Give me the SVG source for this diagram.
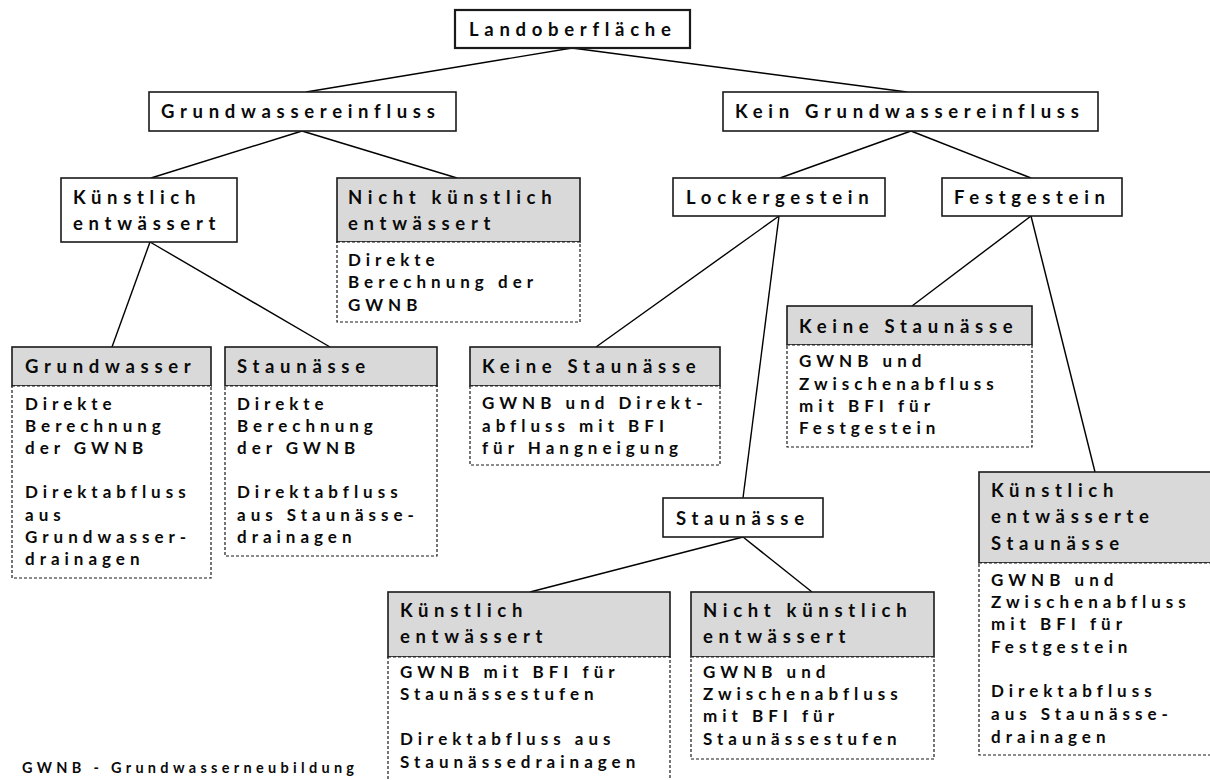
<svg xmlns="http://www.w3.org/2000/svg" width="1210" height="780" viewBox="0 0 1210 780">
<style>
.bg{fill:#fff}
.box{fill:#fff;stroke:#1a1a1a;stroke-width:1.6}
.hd{fill:#d9d9d9;stroke:#1a1a1a;stroke-width:1.6}
.bd{fill:#fff;stroke:#1a1a1a;stroke-width:1.2;stroke-dasharray:3 2}
.ln{stroke:#000;stroke-width:1.4;fill:none}
text{fill:#0a0a0a;font-family:Lato,"Liberation Sans",sans-serif;font-weight:bold}
.h{font-size:18.5px;letter-spacing:5.7px}
.b{font-size:17px;letter-spacing:5px}
.f{font-size:14.5px;letter-spacing:4.3px}
</style>
<rect class="bg" x="0" y="0" width="1210" height="780"/>
<g id="connectors">
<line class="ln" x1="572" y1="48" x2="306" y2="92"/>
<line class="ln" x1="572" y1="48" x2="907" y2="92"/>
<line class="ln" x1="302" y1="131" x2="151" y2="178"/>
<line class="ln" x1="302" y1="131" x2="457" y2="178"/>
<line class="ln" x1="911" y1="131" x2="780" y2="178"/>
<line class="ln" x1="911" y1="131" x2="1031" y2="178"/>
<line class="ln" x1="150" y1="242" x2="112" y2="347"/>
<line class="ln" x1="150" y1="242" x2="330" y2="347"/>
<line class="ln" x1="779" y1="216" x2="596" y2="347"/>
<line class="ln" x1="779" y1="216" x2="743" y2="498"/>
<line class="ln" x1="1031" y1="216" x2="912" y2="306"/>
<line class="ln" x1="1031" y1="216" x2="1095" y2="472"/>
<line class="ln" x1="743" y1="537" x2="530" y2="592"/>
<line class="ln" x1="743" y1="537" x2="812" y2="592"/>
</g>
<g id="n-landoberflaeche">
<rect class="box" x="455" y="10" width="235" height="38" style="stroke-width:2.2"/>
<text class="h" x="469" y="36">Landoberfläche</text>
</g>
<g id="n-grundwassereinfluss">
<rect class="box" x="149" y="92" width="307" height="39"/>
<text class="h" x="161" y="118">Grundwassereinfluss</text>
</g>
<g id="n-kein-grundwassereinfluss">
<rect class="box" x="723" y="92" width="375" height="39"/>
<text class="h" x="735" y="118">Kein Grundwassereinfluss</text>
</g>
<g id="n-kuenstlich-oben">
<rect class="box" x="61" y="178" width="176" height="64"/>
<text class="h" x="73" y="204">Künstlich</text>
<text class="h" x="73" y="230">entwässert</text>
</g>
<g id="n-nicht-kuenstlich-oben">
<rect class="hd" x="337" y="178" width="243" height="64"/>
<rect class="bd" x="337" y="242" width="243" height="80"/>
<text class="h" x="348" y="204">Nicht künstlich</text>
<text class="h" x="348" y="230">entwässert</text>
<text class="b" x="348" y="266">Direkte</text>
<text class="b" x="348" y="288">Berechnung der</text>
<text class="b" x="348" y="311">GWNB</text>
</g>
<g id="n-lockergestein">
<rect class="box" x="673" y="178" width="212" height="38"/>
<text class="h" x="686" y="204">Lockergestein</text>
</g>
<g id="n-festgestein">
<rect class="box" x="942" y="178" width="180" height="38"/>
<text class="h" x="954" y="204">Festgestein</text>
</g>
<g id="n-grundwasser">
<rect class="hd" x="12" y="347" width="199" height="39"/>
<rect class="bd" x="12" y="386" width="199" height="192"/>
<text class="h" x="25" y="373">Grundwasser</text>
<text class="b" x="25" y="410">Direkte</text>
<text class="b" x="25" y="432">Berechnung</text>
<text class="b" x="25" y="454">der GWNB</text>
<text class="b" x="25" y="498">Direktabfluss</text>
<text class="b" x="25" y="521">aus</text>
<text class="b" x="25" y="543">Grundwasser-</text>
<text class="b" x="25" y="565">drainagen</text>
</g>
<g id="n-staunaesse-links">
<rect class="hd" x="225" y="347" width="212" height="39"/>
<rect class="bd" x="225" y="386" width="212" height="170"/>
<text class="h" x="237" y="373">Staunässe</text>
<text class="b" x="237" y="410">Direkte</text>
<text class="b" x="237" y="432">Berechnung</text>
<text class="b" x="237" y="454">der GWNB</text>
<text class="b" x="237" y="498">Direktabfluss</text>
<text class="b" x="237" y="521">aus Staunässe-</text>
<text class="b" x="237" y="543">drainagen</text>
</g>
<g id="n-keine-staunaesse-locker">
<rect class="hd" x="470" y="347" width="250" height="39"/>
<rect class="bd" x="470" y="386" width="250" height="79"/>
<text class="h" x="482" y="373">Keine Staunässe</text>
<text class="b" x="482" y="409">GWNB und Direkt-</text>
<text class="b" x="482" y="432">abfluss mit BFI</text>
<text class="b" x="482" y="454">für Hangneigung</text>
</g>
<g id="n-keine-staunaesse-fest">
<rect class="hd" x="787" y="306" width="245" height="39"/>
<rect class="bd" x="787" y="345" width="245" height="102"/>
<text class="h" x="799" y="333">Keine Staunässe</text>
<text class="b" x="799" y="367">GWNB und</text>
<text class="b" x="799" y="390">Zwischenabfluss</text>
<text class="b" x="799" y="412">mit BFI für</text>
<text class="b" x="799" y="434">Festgestein</text>
</g>
<g id="n-staunaesse-mitte">
<rect class="box" x="663" y="498" width="160" height="39"/>
<text class="h" x="676" y="525">Staunässe</text>
</g>
<g id="n-kuenstlich-entw-staunaesse">
<rect class="hd" x="979" y="472" width="240" height="91"/>
<rect class="bd" x="979" y="563" width="240" height="192"/>
<text class="h" x="991" y="497">Künstlich</text>
<text class="h" x="991" y="523">entwässerte</text>
<text class="h" x="991" y="550">Staunässe</text>
<text class="b" x="991" y="586">GWNB und</text>
<text class="b" x="991" y="608">Zwischenabfluss</text>
<text class="b" x="991" y="630">mit BFI für</text>
<text class="b" x="991" y="653">Festgestein</text>
<text class="b" x="991" y="697">Direktabfluss</text>
<text class="b" x="991" y="720">aus Staunässe-</text>
<text class="b" x="991" y="743">drainagen</text>
</g>
<g id="n-kuenstlich-unten">
<rect class="hd" x="388" y="592" width="282" height="65"/>
<rect class="bd" x="388" y="657" width="282" height="124"/>
<text class="h" x="400" y="617">Künstlich</text>
<text class="h" x="400" y="643">entwässert</text>
<text class="b" x="400" y="678">GWNB mit BFI für</text>
<text class="b" x="400" y="700">Staunässestufen</text>
<text class="b" x="400" y="745">Direktabfluss aus</text>
<text class="b" x="400" y="768">Staunässedrainagen</text>
</g>
<g id="n-nicht-kuenstlich-unten">
<rect class="hd" x="691" y="592" width="243" height="65"/>
<rect class="bd" x="691" y="657" width="243" height="102"/>
<text class="h" x="703" y="617">Nicht künstlich</text>
<text class="h" x="703" y="643">entwässert</text>
<text class="b" x="703" y="678">GWNB und</text>
<text class="b" x="703" y="700">Zwischenabfluss</text>
<text class="b" x="703" y="722">mit BFI für</text>
<text class="b" x="703" y="745">Staunässestufen</text>
</g>
<g id="legend">
<text class="f" x="22" y="773">GWNB - Grundwasserneubildung</text>
</g>
</svg>
